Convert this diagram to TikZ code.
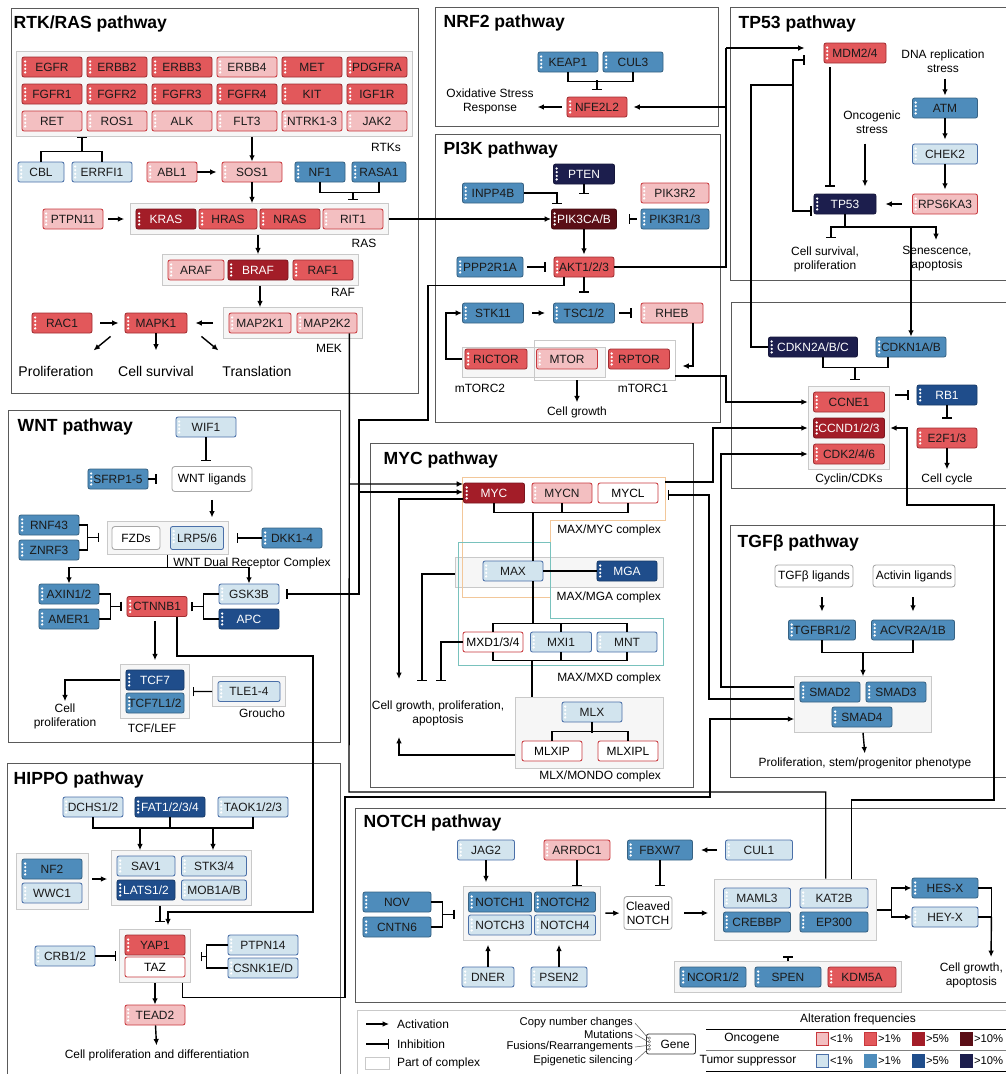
\documentclass[tikz,border=0pt]{standalone}
\usepackage{fontspec}
\setmainfont{Liberation Sans}
\usetikzlibrary{arrows.meta,positioning,fit,backgrounds}

\definecolor{onclow}{HTML}{F3BFC1}
\definecolor{oncmid}{HTML}{E2585B}
\definecolor{onchigh}{HTML}{A31D28}
\definecolor{oncmax}{HTML}{5B0E16}
\definecolor{oncline}{HTML}{C8383D}
\definecolor{tsglow}{HTML}{D2E4EE}
\definecolor{tsgmid}{HTML}{4E8CBB}
\definecolor{tsghigh}{HTML}{1F4D8B}
\definecolor{tsgmax}{HTML}{1C1E4D}
\definecolor{tsgline}{HTML}{4A6FA8}
\definecolor{frameline}{HTML}{5A5A5A}
\definecolor{cplxline}{HTML}{C9C9C9}
\definecolor{cplxfill}{HTML}{F6F6F6}
\definecolor{maxmyc}{HTML}{F2C79A}
\definecolor{maxmxd}{HTML}{79C2BD}
\definecolor{gtext}{HTML}{1A1A1A}

\newcommand{\genefont}{\fontsize{8.5}{9}\selectfont}
\newcommand{\notefont}{\fontsize{8.5}{10}\selectfont}
\newcommand{\bignotefont}{\fontsize{10}{12}\selectfont}
\newcommand{\titlefont}{\fontsize{12.5}{14}\selectfont\bfseries}

\begin{document}
\begin{tikzpicture}[x=0.025cm,y=-0.025cm,line width=1pt,
  >={Latex[length=4.5pt,width=4pt]},
  gene/.style={rectangle,rounded corners=1.5pt,draw,line width=0.6pt,
    minimum width=1.5cm,minimum height=0.5cm,inner sep=0pt,font=\genefont,
    path picture={\foreach \k in {1,2,3,4}
      \fill[white] ([xshift=2.3pt,yshift={-0.6pt-2.6pt*\k}]path picture bounding box.north west) circle (0.9pt);}},
  onc1/.style={gene,fill=onclow,draw=oncline,text=gtext},
  onc2/.style={gene,fill=oncmid,draw=oncline!80!black,text=gtext},
  onc3/.style={gene,fill=onchigh,draw=onchigh!75!black,text=white},
  onc4/.style={gene,fill=oncmax,draw=oncmax!75!black,text=white},
  tsg1/.style={gene,fill=tsglow,draw=tsgline,text=gtext},
  tsg2/.style={gene,fill=tsgmid,draw=tsgmid!70!black,text=gtext},
  tsg3/.style={gene,fill=tsghigh,draw=tsghigh!75!black,text=white},
  tsg4/.style={gene,fill=tsgmax,draw=tsgmax!75!black,text=white},
  plaingene/.style={rectangle,rounded corners=1.5pt,draw=oncline,fill=white,line width=0.6pt,
    minimum width=1.5cm,minimum height=0.5cm,inner sep=0pt,font=\genefont},
  ligand/.style={rectangle,rounded corners=2pt,draw=gray!70,fill=white,line width=0.6pt,
    inner sep=2pt,font=\notefont,align=center},
  complex/.style={rectangle,draw=cplxline,fill=cplxfill,line width=0.6pt,inner sep=0pt},
  pathway/.style={draw=frameline,line width=0.7pt},
  paneltitle/.style={anchor=west,font=\titlefont,inner sep=0pt},
  note/.style={font=\notefont,align=center,inner sep=1pt},
  bignote/.style={font=\bignotefont,align=center,inner sep=1pt},
  act/.style={->},
  inh/.style={-{Bar[width=7pt]}},
  swatch/.style={rectangle,minimum width=0.3cm,minimum height=0.33cm,inner sep=0pt,line width=0.6pt}]

\useasboundingbox (0,0) rectangle (1006,1074);
\clip (0,0) rectangle (1006,1074);

% ---------------- RTK/RAS
\draw[pathway] (11,8) rectangle (418,393);
\node[paneltitle] at (13,24) {RTK/RAS pathway};
\node[onc2] (egfr)   at (52,67)  {EGFR};
\node[onc2] (erbb2)  at (117,67) {ERBB2};
\node[onc2] (erbb3)  at (182,67) {ERBB3};
\node[onc1] (erbb4)  at (247,67) {ERBB4};
\node[onc2] (met)    at (312,67) {MET};
\node[onc2] (pdgfra) at (377,67) {PDGFRA};
\node[onc2] (fgfr1)  at (52,94)  {FGFR1};
\node[onc2] (fgfr2)  at (117,94) {FGFR2};
\node[onc2] (fgfr3)  at (182,94) {FGFR3};
\node[onc2] (fgfr4)  at (247,94) {FGFR4};
\node[onc2] (kit)    at (312,94) {KIT};
\node[onc2] (igf1r)  at (377,94) {IGF1R};
\node[onc1] (ret)    at (52,121) {RET};
\node[onc1] (ros1)   at (117,121) {ROS1};
\node[onc1] (alk)    at (182,121) {ALK};
\node[onc1] (flt3)   at (247,121) {FLT3};
\node[onc1] (ntrk)   at (312,121) {NTRK1-3};
\node[onc1] (jak2)   at (377,121) {JAK2};
\begin{scope}[on background layer]
  \node[complex,fit=(egfr)(jak2),inner sep=3.5pt] (rtks) {};
\end{scope}
\node[note] at (386,147) {RTKs};
\node[tsg1,minimum width=1.15cm] (cbl) at (41,172) {CBL};
\node[tsg1] (errfi1) at (102,172) {ERRFI1};
\node[onc1,minimum width=1.25cm] (abl1) at (172,172) {ABL1};
\node[onc1] (sos1) at (252,172) {SOS1};
\node[tsg2,minimum width=1.25cm] (nf1) at (320,172) {NF1};
\node[tsg2,minimum width=1.35cm] (rasa1) at (379,172) {RASA1};
\node[onc1] (ptpn11) at (73,219) {PTPN11};
\node[onc3] (kras) at (166,219) {KRAS};
\node[onc2,minimum width=1.45cm] (hras) at (228,219) {HRAS};
\node[onc2] (nras) at (290,219) {NRAS};
\node[onc1] (rit1) at (353,219) {RIT1};
\begin{scope}[on background layer]
  \node[complex,fit=(kras)(rit1),inner sep=3.5pt] (ras) {};
\end{scope}
\node[note] at (364,243) {RAS};
\node[onc1,minimum width=1.4cm] (araf) at (196,270) {ARAF};
\node[onc3] (braf) at (258,270) {BRAF};
\node[onc2] (raf1) at (323,270) {RAF1};
\begin{scope}[on background layer]
  \node[complex,fit=(araf)(raf1),inner sep=3.5pt] (raf) {};
\end{scope}
\node[note] at (343,292) {RAF};
\node[onc1,minimum width=1.55cm] (map2k1) at (260,323) {MAP2K1};
\node[onc1] (map2k2) at (327,323) {MAP2K2};
\begin{scope}[on background layer]
  \node[complex,fit=(map2k1)(map2k2),inner sep=3.5pt] (mek) {};
\end{scope}
\node[note] at (329,348) {MEK};
\node[onc2,minimum width=1.55cm] (mapk1) at (156,323) {MAPK1};
\node[onc2] (rac1) at (62,323) {RAC1};
\node[bignote] (prolif) at (56,371) {Proliferation};
\node[bignote] (survival) at (156,371) {Cell survival};
\node[bignote] (transl) at (257,371) {Translation};

\draw (cbl.north) -- ++(0,-10) -| (errfi1.north);
\draw[inh] (82,152) -- (rtks.south -| 82,0);
\draw[act] (sos1.north |- rtks.south) -- (sos1.north);
\draw[act,shorten >=0.125cm] (abl1) -- (sos1);
\draw (nf1.south) -- ++(0,10) -| (rasa1.south);
\draw[inh,shorten >=0.075cm] (353,192) -- (ras.north -| 353,0);
\draw[act,shorten <=0.125cm,shorten >=0.15cm] (ptpn11) -- (ras);
\draw[act] (sos1.south) -- (sos1.south |- ras.north);
\draw[act] (braf |- ras.south) -- (braf |- raf.north);
\draw[act] (map2k1 |- raf.south) -- (map2k1 |- mek.north);
\draw[act,shorten <=0.25cm,shorten >=0.2cm] (mek) -- (mapk1);
\draw[act,shorten <=0.2cm,shorten >=0.15cm] (rac1) -- (mapk1);
\draw[act] ([shift={(-14,3)}]mapk1.south west) -- ++(-17,14);
\draw[act] (mapk1.south) -- ++(0,17);
\draw[act] ([shift={(14,3)}]mapk1.south east) -- ++(17,14);

% ---------------- NRF2
\draw[pathway] (435,7) rectangle (718,126);
\node[paneltitle] at (443,23) {NRF2 pathway};
\node[tsg2] (keap1) at (568,62) {KEAP1};
\node[tsg2] (cul3) at (633,62) {CUL3};
\node[onc2] (nfe2l2) at (597,107) {NFE2L2};
\node[note] (oxstress) at (490,101) {Oxidative Stress\\Response};
\draw (keap1.south) -- ++(0,9) -| (cul3.south);
\draw[inh] (nfe2l2.north |- 0,80) -- ++(0,10);
\draw[act,shorten <=0.125cm,shorten >=0.05cm] (nfe2l2.west) -- (oxstress.east |- nfe2l2);

% ---------------- PI3K
\draw[pathway] (435,134) rectangle (720,422);
\node[paneltitle] at (443,150) {PI3K pathway};
\node[tsg4,minimum width=1.525cm] (pten) at (584,174) {PTEN};
\node[tsg2,minimum width=1.525cm] (inpp4b) at (493,193) {INPP4B};
\node[onc4,minimum width=1.625cm] (pik3ca) at (584,219) {PIK3CA/B};
\node[onc1,minimum width=1.7cm] (pik3r2) at (675,193) {PIK3R2};
\node[tsg2,minimum width=1.7cm] (pik3r1) at (675,219) {PIK3R1/3};
\node[tsg2,minimum width=1.65cm] (ppp2r1a) at (490,267) {PPP2R1A};
\node[onc2] (akt) at (584,267) {AKT1/2/3};
\node[tsg2,minimum width=1.525cm] (stk11) at (493,313) {STK11};
\node[tsg2,minimum width=1.525cm] (tsc) at (584,313) {TSC1/2};
\node[onc1,minimum width=1.55cm] (rheb) at (672,313) {RHEB};
\node[onc2,minimum width=1.55cm] (rictor) at (496,359) {RICTOR};
\node[onc1,minimum width=1.525cm] (mtor) at (567,359) {MTOR};
\node[onc2,minimum width=1.525cm] (rptor) at (639,359) {RPTOR};
\begin{scope}[on background layer]
  \node[complex,fit={(462,347) (605,377)}] (mtorc2) {};
  \node[complex,fill=none,fit={(534,340) (675,380)}] (mtorc1) {};
\end{scope}
\node[note] at (480,388) {mTORC2};
\node[note] at (643,388) {mTORC1};
\node[note] (pi3kout) at (577,412) {Cell growth};

\draw[inh] (pten.south) -- ++(0,10);
\draw[inh] (inpp4b.east) -| (557,204);
\draw[inh,shorten <=0.1cm,shorten >=0.3cm] (pik3r1) -- (pik3ca);
\draw[act,shorten >=0.05cm] (pik3ca) -- (akt);
\draw[inh,shorten <=0.1cm,shorten >=0.2cm] (ppp2r1a) -- (akt);
\draw[inh,shorten >=0.25cm] (akt) -- (tsc);
\draw[act,shorten <=0.2cm,shorten >=0.2cm] (stk11) -- (tsc);
\draw[inh,shorten <=0.1cm,shorten >=0.225cm] (tsc) -- (rheb);
\draw[act,shorten >=0.175cm] ([xshift=0.525cm]rheb.south) |- (mtorc1.east |- 0,366);
\draw[act] (mtorc2.west |- rictor) -| (446,313) -- (stk11.west);
\draw[act,shorten >=0.05cm] (mtorc1.south -| 577,0) -- (pi3kout.north);
\draw[act] (ras.east) -- (pik3ca.west);

% ---------------- TP53
\draw[pathway] (730,7) rectangle (1020,280);
\node[paneltitle] at (738,24) {TP53 pathway};
\node[onc2,minimum width=1.55cm] (mdm2) at (855,53) {MDM2/4};
\node[note] (dnastress) at (943,61) {DNA replication\\stress};
\node[tsg2,minimum width=1.625cm] (atm) at (945,108) {ATM};
\node[tsg1,minimum width=1.625cm] (chek2) at (945,154) {CHEK2};
\node[onc1,minimum width=1.625cm] (rps6ka3) at (945,204) {RPS6KA3};
\node[tsg4,minimum width=1.55cm] (tp53) at (845,204) {TP53};
\node[note] (oncstress) at (872,122) {Oncogenic\\stress};
\node[note] at (825,259) {Cell survival,\\proliferation};
\node[note] at (937,259) {Senescence,\\apoptosis};

\draw[act,shorten <=0.1cm,shorten >=0.05cm] (dnastress.south -| atm) -- (atm.north);
\draw[act,shorten >=0.1cm] (atm) -- (chek2);
\draw[act,shorten >=0.1cm] (chek2) -- (rps6ka3);
\draw[act,shorten <=0.25cm,shorten >=0.225cm] (rps6ka3) -- (tp53);
\draw[act,shorten <=0.2cm,shorten >=0.175cm] (oncstress.south -| 865,0) -- (tp53.north -| 865,0);
\draw[inh,shorten <=0.1cm,shorten >=0.175cm] (mdm2.south -| 830,0) -- (tp53.north -| 830,0);
\draw (tp53.south) -- ++(0,12);
\draw[inh] (tp53.south |- 0,227) -| (831,238);
\draw[act] (tp53.south |- 0,227) -| (936,240);

% AKT feeds NRF2 and MDM2
\draw (akt.east) -| (726,48);
\draw[act,shorten >=0.475cm] (726,48) -- (mdm2.west |- 0,48);
\draw[act,shorten >=0.15cm] (726,107) -- (nfe2l2.east);

% ---------------- Cyclin / CDK
\draw[pathway] (731,302) rectangle (1020,488);
\node[tsg4,minimum width=2.225cm] (cdkn2a) at (813,347) {CDKN2A/B/C};
\node[tsg2,minimum width=1.75cm] (cdkn1a) at (911,347) {CDKN1A/B};
\node[onc2,minimum width=1.775cm] (ccne1) at (849,402) {CCNE1};
\node[onc3,minimum width=1.775cm] (ccnd) at (849,428) {CCND1/2/3};
\node[onc2,minimum width=1.775cm] (cdk) at (849,454) {CDK2/4/6};
\begin{scope}[on background layer]
  \node[complex,fit=(ccne1)(cdk),inner sep=3.5pt] (cyclin) {};
\end{scope}
\node[note] at (849,479) {Cyclin/CDKs};
\node[tsg3] (rb1) at (947,395) {RB1};
\node[onc2] (e2f) at (947,438) {E2F1/3};
\node[note] (cellcycle) at (947,479) {Cell cycle};

\draw[act] (cdkn1a.north |- 0,227) -- (cdkn1a.north);
\draw ([xshift=0.25cm]cdkn2a.south) -- ++(0,10) -| ([xshift=-0.575cm]cdkn1a.south);
\draw[inh,shorten >=0.15cm] (855,367) -- (cyclin.north -| 855,0);
\draw[inh,shorten <=0.125cm,shorten >=0.2cm] (cyclin.east |- rb1) -- (rb1.west);
\draw[inh,shorten >=0.225cm] (rb1) -- (e2f);
\draw[act,shorten >=0.05cm] (e2f.south) -- (cellcycle.north);
% CDKN2A to MDM2 and TP53
\draw (cdkn2a.west) -| (751,85) -- (793,85);
\draw[inh,shorten >=0.475cm] (793,85) |- (mdm2.west |- 0,60);
\draw[inh,shorten >=0.05cm] (793,85) |- (tp53.west |- 0,211);
\draw[act] (mtorc1.east |- 0,376) -| (726,402) -- (cyclin.west |- ccne1);

% ---------------- WNT
\draw[pathway] (8,410) rectangle (340,742);
\node[paneltitle] at (17,427) {WNT pathway};
\node[tsg1] (wif1) at (206,427) {WIF1};
\node[tsg2] (sfrp) at (118,479) {SFRP1-5};
\node[ligand,minimum width=2cm,minimum height=0.625cm] (wntl) at (212,479) {WNT ligands};
\node[ligand,minimum width=1.2cm,minimum height=0.575cm] (fzd) at (136,538) {FZDs};
\node[tsg1,minimum width=1.325cm,minimum height=0.575cm] (lrp) at (197,538) {LRP5/6};
\begin{scope}[on background layer]
  \node[complex,fit=(fzd)(lrp),inner sep=3pt] (rec) {};
\end{scope}
\node[tsg2] (rnf43) at (49,525) {RNF43};
\node[tsg2] (znrf3) at (49,550) {ZNRF3};
\node[tsg2] (dkk) at (292,538) {DKK1-4};
\node[note] at (252,563) {WNT Dual Receptor Complex};
\node[tsg2] (axin) at (69,594) {AXIN1/2};
\node[tsg2] (amer1) at (69,619) {AMER1};
\node[onc2] (ctnnb1) at (157,606.5) {CTNNB1};
\node[tsg1] (gsk3b) at (249,594) {GSK3B};
\node[tsg3] (apc) at (249,619) {APC};
\node[tsg3,minimum width=1.45cm] (tcf7) at (155,680) {TCF7};
\node[tsg2,minimum width=1.45cm] (tcf7l) at (155,703) {TCF7L1/2};
\node[tsg1,minimum width=1.55cm] (tle) at (249,691.5) {TLE1-4};
\begin{scope}[on background layer]
  \node[complex,fit=(tcf7)(tcf7l),inner sep=3.5pt] (tcf) {};
  \node[complex,fit=(tle),inner sep=3.5pt] (tlegrp) {};
\end{scope}
\node[note] at (262,713) {Groucho};
\node[note] at (152,728) {TCF/LEF};
\node[note] (wntout) at (65,716) {Cell\\proliferation};

\draw[inh,shorten >=0.125cm] (wif1.south) -- (wif1.south |- wntl.north);
\draw[inh,shorten >=0.375cm] (sfrp) -- (wntl);
\draw[act,shorten <=0.2cm,shorten >=0.1cm] (wntl.south) -- (wntl.south |- rec.north);
\draw (rnf43.east) -- ++(8,0) |- (znrf3.east);
\draw[inh,shorten >=0.2cm] (88,537.5) -- (rec.west |- 0,537.5);
\draw[inh,shorten >=0.2cm] (dkk) -- (rec);
\draw[act] (rec.south) -- ++(0,13) -| (axin.north);
\draw[act] (rec.south) ++(0,13) -| (gsk3b.north);
\draw (axin.east) -- ++(11,0) |- (amer1.east);
\draw[inh,shorten >=0.125cm] (110,606.5) -- (ctnnb1.west);
\draw (gsk3b.west) -- ++(-15,0) |- (apc.west);
\draw[inh,shorten >=0.1cm] (204,606.5) -- (ctnnb1.east);
\draw[act,shorten <=0.1cm,shorten >=0.1cm] (ctnnb1.south -| 155,0) -- (tcf.north);
\draw[inh,shorten >=0.075cm] (tlegrp) -- (tcf);
\draw[act] (tcf.west |- tcf7) -| (wntout.north);

% ---------------- MYC
\draw[pathway] (370,443) rectangle (693,787);
\node[paneltitle] at (383,460) {MYC pathway};
\node[onc3,minimum width=1.525cm] (myc) at (494,493) {MYC};
\node[onc1] (mycn) at (562,493) {MYCN};
\node[plaingene] (mycl) at (628,493) {MYCL};
\node[tsg1] (max) at (513,571) {MAX};
\node[tsg3] (mga) at (627,571) {MGA};
\node[plaingene] (mxd) at (493,642) {MXD1/3/4};
\node[tsg1,minimum width=1.525cm] (mxi1) at (561,642) {MXI1};
\node[tsg1] (mnt) at (627,642) {MNT};
\node[tsg1] (mlx) at (592,712) {MLX};
\node[plaingene] (mlxip) at (552,751) {MLXIP};
\node[plaingene] (mlxipl) at (628,751) {MLXIPL};
\begin{scope}[on background layer]
  \node[complex,fit={(455,557) (663,587)}] (maxmga) {};
  \node[complex,fit={(515,697) (663,768)}] (mlxgrp) {};
  \draw[maxmyc,line width=0.6pt] (462,477) -- (665,477) -- (665,520) -- (550,520) -- (550,597) -- (462,597) -- cycle;
  \draw[maxmxd,line width=0.6pt] (458,542) -- (550,542) -- (550,618) -- (663,618) -- (663,665) -- (458,665) -- cycle;
\end{scope}
\coordinate (maxmycA) at (665,482);
\coordinate (maxmycB) at (665,495);
\node[note,anchor=east] at (663,530) {MAX/MYC complex};
\node[note,anchor=east] at (663,597) {MAX/MGA complex};
\node[note,anchor=east] at (663,678) {MAX/MXD complex};
\node[note,anchor=east] at (663,776) {MLX/MONDO complex};
\node[note] (mycout) at (438,713) {Cell growth, proliferation,\\apoptosis};

\draw (myc.south) -- ++(0,9) -| (mycl.south);
\draw (mycn.south) -- ++(0,9);
\draw (533,512) -- (max.north -| 533,0);
\draw (max.south -| 533,0) -- (533,624);
\draw (max) -- (mga);
\draw (mxd.north) -- ++(0,-8) -| (mnt.north);
\draw (mxi1.north) -- ++(0,-8);
\draw (mxd.south) -- ++(0,8) -| (mnt.south);
\draw (mxi1.south) -- ++(0,8);
\draw (532,660) -- (mlxgrp.north -| 532,0);
\draw (mlx.south) -- ++(0,11);
\draw (mlxip.north) -- ++(0,-9) -| (mlxipl.north);
\draw[act] ([yshift=-0.15cm]myc.west) -| (399,679);
\draw[inh] (maxmga.west |- 0,574) -| (422,681);
\draw[inh] (mxd.west) -| (441,681);
\draw[act] (mlxgrp.west |- 0,755) -| (399,737);

% long links into MYC and GSK3B
\draw[act] (349,484) -- ([yshift=0.225cm]myc.west);
\draw[inh,shorten >=0.175cm] ([xshift=-0.5cm]akt.south) -- ++(0,8) -| (428,420) -| (359,594) -- (gsk3b.east);
\draw[act] (359,492) -- ([yshift=0.025cm]myc.west);
\draw[act] (maxmycA) -| (713,428) -- (cyclin.west |- ccnd);

% ---------------- TGF-beta
\draw[pathway] (730,525) rectangle (1020,777);
\node[paneltitle] at (737,543) {TGFβ pathway};
\node[ligand,minimum width=1.95cm,minimum height=0.55cm] (tgfl) at (814,576) {TGFβ ligands};
\node[ligand,minimum width=2.05cm,minimum height=0.55cm] (actl) at (914,576) {Activin ligands};
\node[tsg2,minimum width=1.675cm] (tgfbr) at (822,630) {TGFBR1/2};
\node[tsg2,minimum width=2.075cm] (acvr) at (913,630) {ACVR2A/1B};
\node[tsg2] (smad2) at (830,692) {SMAD2};
\node[tsg2] (smad3) at (896,692) {SMAD3};
\node[tsg2] (smad4) at (862,717) {SMAD4};
\begin{scope}[on background layer]
  \node[complex,fit=(smad2)(smad3)(smad4),inner sep=3.5pt] (smads) {};
\end{scope}
\node[note] (tgfout) at (865,763) {Proliferation, stem/progenitor phenotype};

\draw[act,shorten <=0.25cm,shorten >=0.2cm] (tgfbr |- tgfl.south) -- (tgfbr.north);
\draw[act,shorten <=0.25cm,shorten >=0.2cm] (acvr |- actl.south) -- (acvr.north);
\draw (tgfbr.south) -- ++(0,12) -| (acvr.south);
\draw[act] (smads.north |- 0,652) -- (smads.north);
\draw[act,shorten >=0.05cm] (smads.south) -- (tgfout.north);
\draw[act] (smads.west |- 0,687) -| (721,454) -- (cyclin.west |- cdk);
\draw[inh,shorten >=0.075cm] (smads.west |- 0,699) -| (709,495) -- (maxmycB);

% ---------------- HIPPO
\draw[pathway] (7,763) rectangle (340,1090);
\node[paneltitle] at (13,780) {HIPPO pathway};
\node[tsg1] (dchs) at (93,807) {DCHS1/2};
\node[tsg3,minimum width=1.75cm] (fat) at (170,807) {FAT1/2/3/4};
\node[tsg1,minimum width=1.75cm] (taok) at (253,807) {TAOK1/2/3};
\node[tsg1,minimum width=1.45cm] (sav1) at (146,866) {SAV1};
\node[tsg1,minimum width=1.625cm] (stk34) at (214,866) {STK3/4};
\node[tsg3,minimum width=1.45cm] (lats) at (146,890) {LATS1/2};
\node[tsg1,minimum width=1.625cm] (mob1) at (214,890) {MOB1A/B};
\node[tsg2] (nf2) at (52,869) {NF2};
\node[tsg1] (wwc1) at (52,893) {WWC1};
\node[onc2] (yap1) at (155,945) {YAP1};
\node[plaingene] (taz) at (155,967) {TAZ};
\begin{scope}[on background layer]
  \node[complex,fit=(sav1)(mob1),inner sep=3.5pt] (core) {};
  \node[complex,fit=(nf2)(wwc1),inner sep=4pt] (nfgrp) {};
  \node[complex,fit=(yap1)(taz),inner sep=3.5pt] (yapgrp) {};
\end{scope}
\node[tsg1] (crb) at (65,956) {CRB1/2};
\node[tsg1,minimum width=1.75cm] (ptpn14) at (263,945) {PTPN14};
\node[tsg1,minimum width=1.75cm] (csnk) at (263,968) {CSNK1E/D};
\node[onc1] (tead2) at (155,1015) {TEAD2};
\node[note] (hipout) at (157,1055) {Cell proliferation and differentiation};

\draw (dchs.south) |- (taok.south |- 0,828) -- (taok.south);
\draw (fat.south) -- ++(0,11);
\draw[act] (140,828) -- (core.north -| 140,0);
\draw[act] (213,828) -- (core.north -| 213,0);
\draw[act,shorten <=0.1cm,shorten >=0.1cm] (nfgrp.east |- 0,879) -- (core.west |- 0,879);
\draw[inh,shorten >=0.175cm] (core.south -| 160,0) -- (yapgrp.north -| 160,0);
\draw[inh,shorten >=0.075cm] (crb) -- (yapgrp);
\draw (ptpn14.west) -- ++(-21,0) |- (csnk.west);
\draw[inh,shorten >=0.25cm] (207,956.5) -- (yapgrp.east |- 0,956.5);
\draw[act] (yapgrp) -- (tead2);
\draw[act,shorten >=0.05cm] (tead2) -- (hipout);
% beta-catenin to YAP/TAZ, YAP/TAZ to SMAD
\draw[act,shorten >=0.1cm] ([xshift=0.5cm]ctnnb1.south) -- ++(0,39) -| (313,912) -| (yapgrp.north -| 168,0);
\draw[act] ([xshift=-0.2cm]yapgrp.south east) -- ++(0,15) -| (345,797) -| (710,719) -- (smads.west |- 0,719);

% ---------------- NOTCH
\draw[pathway] (355,808) rectangle (1020,1002);
\node[paneltitle] at (363,823) {NOTCH pathway};
\node[tsg1,minimum width=1.425cm] (jag2) at (486,850) {JAG2};
\node[onc1,minimum width=1.65cm] (arrdc1) at (577,850) {ARRDC1};
\node[tsg2,minimum width=1.625cm] (fbxw7) at (660,850) {FBXW7};
\node[tsg1,minimum width=1.675cm] (cul1) at (759,850) {CUL1};
\node[tsg2,minimum width=1.575cm] (notch1) at (500,902) {NOTCH1};
\node[tsg2,minimum width=1.525cm] (notch2) at (565,902) {NOTCH2};
\node[tsg1,minimum width=1.575cm] (notch3) at (500,925) {NOTCH3};
\node[tsg1,minimum width=1.525cm] (notch4) at (565,925) {NOTCH4};
\node[tsg2,minimum width=1.7cm] (nov) at (397,902) {NOV};
\node[tsg2,minimum width=1.7cm] (cntn6) at (397,927) {CNTN6};
\node[ligand,minimum width=1.2cm,minimum height=0.825cm,inner sep=1pt] (cleaved) at (648,913) {Cleaved\\NOTCH};
\node[tsg1,minimum width=1.675cm] (maml3) at (757,898) {MAML3};
\node[tsg1,minimum width=1.7cm] (kat2b) at (834,898) {KAT2B};
\node[tsg2,minimum width=1.675cm] (crebbp) at (757,922) {CREBBP};
\node[tsg2,minimum width=1.7cm] (ep300) at (834,922) {EP300};
\node[tsg2,minimum width=1.65cm] (ncor) at (713,977) {NCOR1/2};
\node[tsg2,minimum width=1.65cm] (spen) at (788,977) {SPEN};
\node[onc2,minimum width=1.7cm] (kdm5a) at (862,977) {KDM5A};
\node[tsg2,minimum width=1.65cm] (hes) at (945,888) {HES-X};
\node[tsg1,minimum width=1.65cm] (hey) at (945,917) {HEY-X};
\node[tsg1,minimum width=1.3cm] (dner) at (488,977) {DNER};
\node[tsg1,minimum width=1.4cm] (psen2) at (559,977) {PSEN2};
\begin{scope}[on background layer]
  \node[complex,fit=(notch1)(notch4),inner sep=3.5pt] (notchgrp) {};
  \node[complex,fit=(maml3)(ep300),inner sep=6pt] (coact) {};
  \node[complex,fit=(ncor)(kdm5a),inner sep=3.5pt] (corep) {};
\end{scope}
\node[note,anchor=north east] (ntout) at (1005,961) {Cell growth,\\apoptosis};

\draw[act,shorten >=0.1cm] (jag2.south) -- (jag2.south |- notchgrp.north);
\draw[inh] (arrdc1.south) -- (arrdc1.south |- notchgrp.north);
\draw[inh,shorten >=0.25cm] (fbxw7.south) -- (fbxw7.south |- cleaved.north);
\draw[act,shorten <=0.2cm,shorten >=0.2cm] (cul1) -- (fbxw7);
\draw (nov.east) -- ++(11,0) |- (cntn6.east);
\draw[inh,shorten >=0.2cm] (442,914.5) -- (notchgrp.west |- 0,914.5);
\draw[act,shorten <=0.1cm,shorten >=0.1cm] (notchgrp) -- (cleaved);
\draw[act,shorten <=0.3cm,shorten >=0.15cm] (cleaved.east) -- (coact.west |- cleaved.east);
\draw[act,shorten >=0.1cm] (dner.north) -- (dner.north |- notchgrp.south);
\draw[act,shorten >=0.1cm] (psen2.north) -- (psen2.north |- notchgrp.south);
\draw[inh,shorten >=0.375cm] (corep.north) -- (corep.north |- coact.south);
\draw (coact.east) -- ++(14,0) coordinate (fork);
\draw[act] (fork) |- (hes.west);
\draw[act] (fork) |- (hey.west);
\draw (hes.east) -- ++(13,0) |- (hey.east);
\draw[act,shorten >=0.1cm] (hey.east) ++(13,0) -- (ntout.north -| 991,0);
% MAP2K2 and coactivators to MYC, coactivators to cyclin D
\draw ([shift={(-8,0)}]map2k2.south east) -- (349,792) -| ([xshift=0.75cm]coact.north);
\draw[act] ([xshift=1.4cm]coact.north) |- (994,800) |- (907,505) |- (cyclin.east |- ccnd);

% ---------------- legend
\draw[cplxline,line width=0.7pt] (357,1010) rectangle (1020,1090);
\draw[act] (366,1024) -- (389,1024);
\node[note,anchor=west] at (395,1024) {Activation};
\draw[inh] (366,1044) -- (389,1044);
\node[note,anchor=west] at (395,1044) {Inhibition};
\node[complex,fill=white,minimum width=0.6cm,minimum height=0.3cm] at (377,1063) {};
\node[note,anchor=west] at (395,1063) {Part of complex};
\node[rectangle,rounded corners=1.5pt,draw=black!80,fill=white,line width=0.6pt,
  minimum width=1.225cm,minimum height=0.5cm,inner sep=0pt,font=\notefont] (keygene) at (671,1044) {\hspace{6pt}Gene};
\foreach \k in {1,2,3,4}
  \draw[black!60,line width=0.3pt] ([xshift=2.3pt,yshift={-0.6pt-2.6pt*\k}]keygene.north west) circle (0.9pt);
\node[note,anchor=east,font=\fontsize{8}{9}\selectfont] (cnc) at (635,1023) {Copy number changes};
\node[note,anchor=east,font=\fontsize{8}{9}\selectfont] (mut) at (635,1034) {Mutations};
\node[note,anchor=east,font=\fontsize{8}{9}\selectfont] (fus) at (635,1047) {Fusions/Rearrangements};
\node[note,anchor=east,font=\fontsize{8}{9}\selectfont] (epi) at (635,1061) {Epigenetic silencing};
\draw[black!60,line width=0.4pt] (cnc.east) -- ([xshift=1.4pt,yshift=-3.2pt]keygene.north west);
\draw[black!60,line width=0.4pt] (mut.east) -- ([xshift=1.4pt,yshift=-5.8pt]keygene.north west);
\draw[black!60,line width=0.4pt] (fus.east) -- ([xshift=1.4pt,yshift=-8.4pt]keygene.north west);
\draw[black!60,line width=0.4pt] (epi.east) -- ([xshift=1.4pt,yshift=-11pt]keygene.north west);
\node[note] at (858,1019) {Alteration frequencies};
\draw[line width=0.6pt] (706,1029) -- (1010,1029);
\draw[line width=0.4pt,black!50] (706,1050) -- (1010,1050);
\draw[line width=0.6pt] (706,1071) -- (1010,1071);
\node[note] at (752,1039) {Oncogene};
\node[note] at (748,1061) {Tumor suppressor};
\foreach \c/\d/\t [count=\i from 0] in {onclow/oncline/{<1\%},oncmid/oncline/{>1\%},onchigh/onchigh/{>5\%},oncmax/oncmax/{>10\%}} {
  \node[swatch,fill=\c,draw=\d] at (822+48*\i,1039) {};
  \node[note,anchor=west,font=\fontsize{8}{9}\selectfont] at (828+48*\i,1039) {\t};
}
\foreach \c/\d/\t [count=\i from 0] in {tsglow/tsgline/{<1\%},tsgmid/tsgmid/{>1\%},tsghigh/tsghigh/{>5\%},tsgmax/tsgmax/{>10\%}} {
  \node[swatch,fill=\c,draw=\d] at (822+48*\i,1061) {};
  \node[note,anchor=west,font=\fontsize{8}{9}\selectfont] at (828+48*\i,1061) {\t};
}
\end{tikzpicture}
\end{document}
